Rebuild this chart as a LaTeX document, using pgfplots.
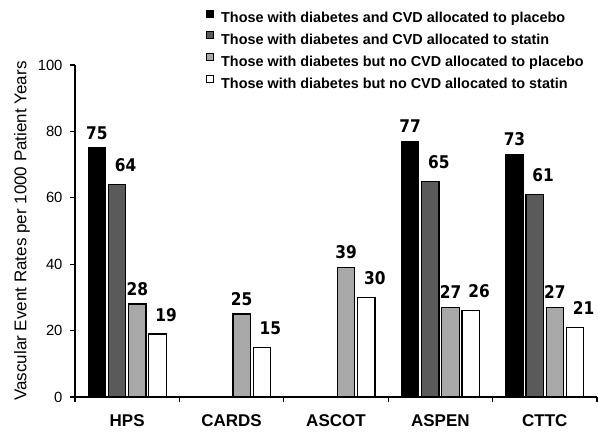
\documentclass[border=0pt]{standalone}
\usepackage{fontspec}
\setmainfont{Liberation Sans}
\newfontfamily\valfont{DejaVu Sans}[FakeStretch=0.88]
\usepackage{pgfplots}
\usepackage{pgfplotstable}
\pgfplotsset{compat=1.18}
\definecolor{dg}{RGB}{90,90,90}
\definecolor{lg}{RGB}{168,168,168}
\pgfplotstableread{
x a b c d
0 75 64 28 19
1 nan nan 25 15
2 nan nan 39 30
3 77 65 27 26
4 73 61 27 21
}\data
\pgfplotsset{sqleg/.style={legend image code/.code={\draw[##1,line width=1pt] (0.5pt,1.5pt) rectangle (7.5pt,8.5pt);}}}
\begin{document}
\begin{tikzpicture}
\useasboundingbox (-75pt,-35pt) rectangle (523pt,397pt);
\begin{axis}[
  at={(0pt,0pt)}, anchor=south west,
  scale only axis, width=522pt, height=332pt,
  xmin=-0.5, xmax=4.5, ymin=0, ymax=100,
  ybar=2.7pt, bar width=17.5pt,
  axis x line=bottom, axis y line=left,
  axis line style={-, line width=1.2pt},
  tick align=outside,
  major tick length=5pt,
  tick style={line width=1.2pt, black},
  xtick={-0.5,0.5,1.5,2.5,3.5,4.5}, xticklabels={},
  extra x ticks={0,1,2,3,4},
  extra x tick labels={HPS,CARDS,ASCOT,ASPEN,CTTC},
  extra x tick style={major tick length=0pt},
  x tick label style={font=\bfseries\fontsize{17}{17}\selectfont, anchor=north, yshift=-14pt},
  ytick={0,20,...,100},
  y tick label style={font=\fontsize{14.8}{14.8}\selectfont, xshift=-4pt},
  /pgf/number format/assume math mode=true,
  every axis y label/.style={at={(axis description cs:-0.1015,0.5)}, anchor=center, rotate=90, font=\fontsize{17}{17}\selectfont},
  ylabel={Vascular Event Rates per 1000 Patient Years},
  nodes near coords,
  every node near coord/.append style={font=\valfont\bfseries\fontsize{17.5}{17.5}\selectfont, anchor=south, inner sep=0pt, yshift=8pt, black},
  legend style={at={(axis description cs:0.2452,1.1732)}, anchor=north west, draw=none, fill=none,
    font=\bfseries\fontsize{14.4}{14.4}\selectfont, nodes={inner sep=0pt, text height=11pt, text depth=3pt},
    row sep=5.8pt, column sep=7pt},
  legend cell align=left,
]
\addplot[fill=black, draw=black, line width=1.2pt, sqleg] table[x=x,y=a]{\data};
\addplot[fill=dg, draw=black, line width=1.2pt, sqleg, every node near coord/.append style={xshift=8.5pt, yshift=4pt}] table[x=x,y=b]{\data};
\addplot[fill=lg, draw=black, line width=1.2pt, sqleg] table[x=x,y=c]{\data};
\addplot[fill=white, draw=black, line width=1.2pt, sqleg, every node near coord/.append style={xshift=8.5pt, yshift=4pt}] table[x=x,y=d]{\data};
\legend{Those with diabetes and CVD allocated to placebo,
Those with diabetes and CVD allocated to statin,
Those with diabetes but no CVD allocated to placebo,
Those with diabetes but no CVD allocated to statin}
\end{axis}
\end{tikzpicture}
\end{document}
